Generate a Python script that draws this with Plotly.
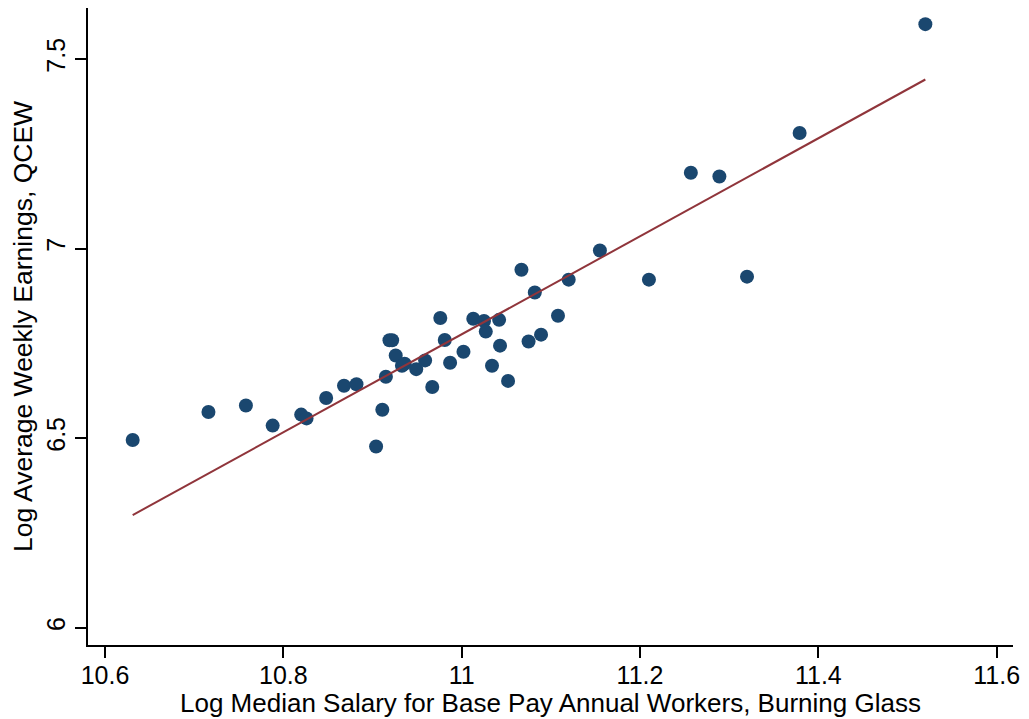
import plotly.graph_objects as go

# Log median salary (Burning Glass) vs log average weekly earnings (QCEW)
log_salary = [
    10.631, 10.716, 10.758, 10.788, 10.820, 10.826, 10.848, 10.868, 10.882,
    10.904, 10.911, 10.915, 10.919, 10.922, 10.926, 10.933, 10.936, 10.949,
    10.959, 10.967, 10.976, 10.981, 10.987, 11.002, 11.013, 11.025, 11.027,
    11.034, 11.042, 11.043, 11.052, 11.067, 11.075, 11.082, 11.089, 11.108,
    11.120, 11.155, 11.210, 11.257, 11.289, 11.320, 11.379, 11.520,
]
log_weekly = [
    6.495, 6.569, 6.586, 6.533, 6.562, 6.552, 6.606, 6.638, 6.642,
    6.478, 6.575, 6.662, 6.758, 6.758, 6.718, 6.691, 6.696, 6.682,
    6.705, 6.635, 6.817, 6.759, 6.699, 6.728, 6.815, 6.809, 6.781,
    6.691, 6.812, 6.744, 6.651, 6.944, 6.755, 6.884, 6.773, 6.823,
    6.918, 6.995, 6.918, 7.200, 7.190, 6.926, 7.305, 7.592,
]

# Fitted regression line endpoints
fit_x = [10.631, 11.520]
fit_y = [6.297, 7.446]

x_ticks = [10.6, 10.8, 11.0, 11.2, 11.4, 11.6]
x_tick_text = ["10.6", "10.8", "11", "11.2", "11.4", "11.6"]
y_ticks = [6.0, 6.5, 7.0, 7.5]
y_tick_text = ["6", "6.5", "7", "7.5"]

x_title = "Log Median Salary for Base Pay Annual Workers, Burning Glass"
y_title = "Log Average Weekly Earnings, QCEW"

font_family = "Liberation Sans, Arial, sans-serif"

fig = go.Figure()
fig.add_trace(go.Scatter(
    x=log_salary, y=log_weekly, mode="markers",
    marker=dict(color="#1a476f", size=14, line=dict(width=0)),
    showlegend=False,
))
fig.add_trace(go.Scatter(
    x=fit_x, y=fit_y, mode="lines",
    line=dict(color="#90353b", width=2),
    showlegend=False,
))

axis_common = dict(
    showgrid=False, zeroline=False, showline=True, linecolor="black",
    linewidth=1.5, ticks="outside", ticklen=11, tickwidth=1.5,
    tickcolor="black", automargin=False,
    tickfont=dict(family=font_family, size=25, color="black"),
)

fig.update_layout(
    width=1029, height=719,
    margin=dict(l=88, r=16, t=8, b=74),
    plot_bgcolor="white", paper_bgcolor="white",
    font=dict(family=font_family, color="black"),
    xaxis=dict(
        range=[10.5809, 11.6183], tickvals=x_ticks, ticktext=x_tick_text,
        ticklabelstandoff=-4,
        **axis_common,
    ),
    yaxis=dict(
        range=[5.9543, 7.6346], tickvals=y_ticks, ticktext=y_tick_text,
        tickangle=-90,
        title=dict(text=y_title, font=dict(size=26.5), standoff=2),
        **axis_common,
    ),
    annotations=[dict(
        text=x_title, xref="paper", yref="paper", x=0.5, y=-0.091,
        xanchor="center", yanchor="middle", showarrow=False,
        font=dict(family=font_family, size=26, color="black"),
    )],
)

fig.write_html("out.html")
